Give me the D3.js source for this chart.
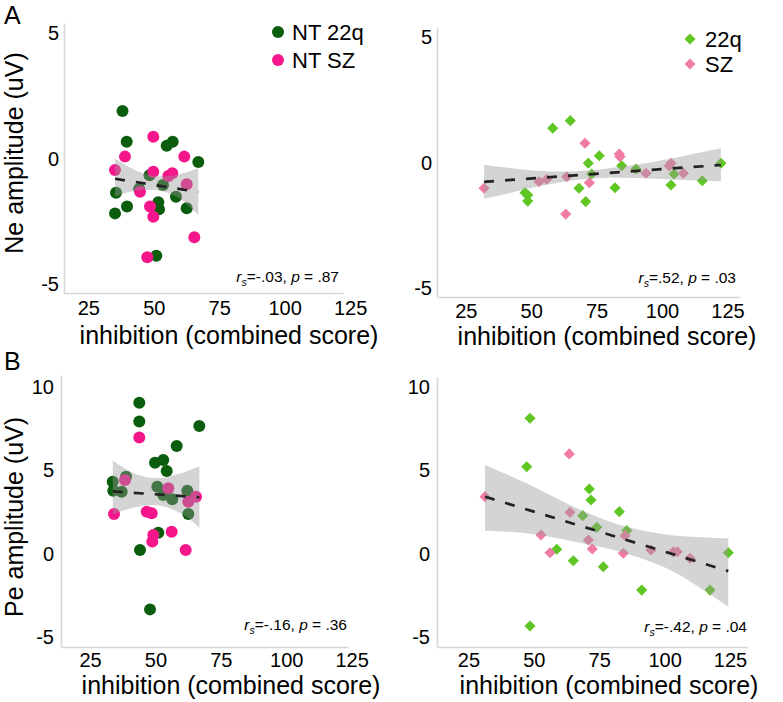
<!DOCTYPE html>
<html><head><meta charset="utf-8">
<script src="https://cdn.jsdelivr.net/npm/d3@7"></script>
<style>
body{margin:0;background:#fff}
svg{display:block}
text{font-family:"Liberation Sans",Arial,Helvetica,sans-serif;fill:#000}
</style>
</head><body>
<svg id="chart" width="783" height="702"></svg>
<script>
// ---------- tick labels ----------
const xTicks = [25, 50, 75, 100, 125];
const neTicks = [-5, 0, 5];
const peTicks = [-5, 0, 5, 10];

// ---------- legend labels ----------
const ntLegend = ["NT 22q", "NT SZ"];
const ptLegend = ["22q", "SZ"];

// ---------- titles ----------
const xTitle = "inhibition (combined score)";
const neTitle = "Ne amplitude (uV)";
const peTitle = "Pe amplitude (uV)";

// ---------- Ne, neurotypical (x = inhibition, y = amplitude) ----------
const neNT22q = [[38.05,1.90],[39.66,0.67],[54.94,0.51],[57.23,0.67],[67.01,-0.13],[35.57,-1.36],[35.19,-2.18],
  [39.77,-1.91],[51.73,-1.74],[52.0,-2.02],[53.52,-1.05],[58.49,-1.52],[62.58,-1.98],[50.97,-3.87],[48.37,-0.66],[44.4,-1.21]];
const neNTSZ = [[49.82,0.87],[39.0,0.08],[61.66,0.08],[35.19,-0.45],[49.82,-0.52],[55.55,-0.69],[57.08,-0.58],
  [44.74,-1.32],[62.58,-1.02],[48.56,-1.91],[49.82,-2.31],[65.49,-3.13],[47.53,-3.93]];
const neNTFit = [[35.2,-0.80],[67.0,-1.33]];
const neNTBand = [[35.2,-1.52,0.01],[40,-1.35,-0.30],[45,-1.25,-0.55],[50,-1.25,-0.68],[55,-1.35,-0.70],[60,-1.60,-0.62],[67.0,-2.24,-0.385]];
const neNTStat = ["-.03", ".87"];

// ---------- Ne, patients ----------
const ne22q = [[58.22,1.38],[64.95,1.68],[76.03,0.28],[71.82,-0.02],[73.12,-0.45],[68.27,-1.02],[70.83,-1.55],
  [47.63,-1.20],[48.66,-1.29],[48.66,-1.53],[82.03,-1.00],[84.59,-0.12],[90.05,-0.25],[104.58,-0.45],[103.43,-0.89],
  [115.39,-0.72],[122.54,-0.02]];
const neSZ = [[31.96,-1.02],[52.98,-0.76],[55.93,-0.66],[63.57,-0.56],[63.19,-2.05],[70.56,0.78],[72.21,-0.80],
  [83.67,0.35],[83.94,0.24],[93.87,-0.42],[103.43,-0.02],[102.78,-0.13],[108.13,-0.42]];
const nePTFit = [[32,-0.76],[122.5,-0.09]];
const nePTBand = [[32,-1.44,-0.08],[45,-1.13,-0.25],[55,-0.90,-0.33],[65,-0.72,-0.35],[75,-0.62,-0.28],[85,-0.60,-0.15],
  [95,-0.63,0.00],[105,-0.68,0.20],[115,-0.72,0.42],[122.5,-0.74,0.58]];
const nePTStat = [".52", ".03"];

// ---------- Pe, neurotypical ----------
const peNT22q = [[43.83,9.07],[43.83,7.93],[66.76,7.67],[58.12,6.47],[49.83,5.46],[52.99,5.63],[54.3,4.96],
  [33.66,4.32],[33.89,3.78],[37.1,3.72],[38.75,4.62],[50.71,4.02],[52.99,3.52],[56.44,3.26],[62.18,3.78],
  [62.56,2.38],[51.09,1.26],[44.1,0.22],[47.92,-3.35]];
const peNTSZ = [[43.83,6.97],[38.36,4.42],[34.16,2.38],[46.66,2.52],[48.57,2.42],[54.91,3.92],[62.56,3.12],
  [65.5,3.42],[49.18,1.12],[48.8,0.72],[56.21,1.32],[61.56,0.22]];
const peNTFit = [[33.7,3.74],[66.8,3.38]];
const peNTBand = [[33.7,2.35,5.6],[38,2.6,5.15],[43,2.8,4.75],[48,2.92,4.55],[53,2.85,4.55],[58,2.55,4.75],[62,2.2,4.95],[66.8,1.55,5.25]];
const peNTStat = ["-.16", ".36"];

// ---------- Pe, patients ----------
const pe22q = [[48.55,8.13],[47.29,5.22],[71.22,3.88],[71.87,3.22],[68.7,2.28],[82.69,2.52],[74.05,1.58],
  [85.52,1.38],[58.76,0.26],[65.1,-0.43],[76.57,-0.79],[91.25,-2.19],[117.36,-2.19],[124.35,0.05],[48.55,-4.35]];
const peSZ = [[31.35,3.42],[63.57,5.99],[63.84,2.48],[52.75,1.12],[56.2,0.05],[70.84,0.82],[72.37,0.28],
  [84.87,1.08],[84.22,0.02],[94.8,0.22],[103.33,0.11],[104.86,0.11],[109.71,-0.28]];
const pePTFit = [[31.35,3.42],[124.35,-1.05]];
const pePTBand = [[31.35,1.38,5.32],[47.3,1.22,4.22],[63.8,0.78,2.92],[83.0,0.11,1.72],[102.1,-0.99,1.12],[124.35,-3.19,0.92]];
const pePTStat = ["-.42", ".04"];

// ---------- styles ----------
const C = {nt22q:"#0b5d0e", ntsz:"#f5168c", p22q:"#5fc623", psz:"#f07ca4"};

const svg = d3.select("#chart");

const diamond = d3.symbol().type(d3.symbolSquare).size(62);

function panel(cfg) {
  const x = d3.scaleLinear().domain(cfg.xd).range(cfg.xr);
  const y = d3.scaleLinear().domain(cfg.yd).range(cfg.yr);
  const g = svg.append("g");

  // axes
  const ax = g.append("g").attr("transform", `translate(0,${cfg.yr[0]})`)
    .call(d3.axisBottom(x).tickValues(xTicks).tickFormat(d => String(d))
      .tickSize(0).tickSizeOuter(0).tickPadding(cfg.xpad));
  const ay = g.append("g").attr("transform", `translate(${cfg.xr[0]},0)`)
    .call(d3.axisLeft(y).tickValues(cfg.yTicks).tickFormat(d => String(d))
      .tickSize(0).tickSizeOuter(0).tickPadding(cfg.ypad));
  [ax, ay].forEach(a => {
    a.select(".domain").attr("stroke", "#d6d6d6").attr("stroke-width", 1.6);
    a.selectAll("text").attr("font-size", 20).attr("fill", "#000")
      .attr("font-family", '"Liberation Sans",Arial,sans-serif');
  });

  // points
  cfg.groups.forEach(gr => {
    if (gr.shape === "circle") {
      g.append("g").selectAll("circle").data(gr.data).join("circle")
        .attr("cx", d => x(d[0])).attr("cy", d => y(d[1])).attr("r", 6).attr("fill", gr.color);
    } else {
      g.append("g").selectAll("path").data(gr.data).join("path")
        .attr("d", diamond)
        .attr("transform", d => `translate(${x(d[0])},${y(d[1])}) rotate(45)`)
        .attr("fill", gr.color);
    }
  });

  // confidence band
  const area = d3.area().x(d => x(d[0])).y0(d => y(d[1])).y1(d => y(d[2])).curve(d3.curveCatmullRom);
  g.append("path").datum(cfg.band).attr("d", area).attr("fill", "#999").attr("fill-opacity", 0.42);

  // fit line
  const line = d3.line().x(d => x(d[0])).y(d => y(d[1]));
  g.append("path").datum(cfg.fit).attr("d", line).attr("fill", "none")
    .attr("stroke", "#222").attr("stroke-width", 2.7).attr("stroke-dasharray", "10,11");

  // stat annotation
  const t = g.append("text").attr("x", cfg.stat.x).attr("y", cfg.stat.y)
    .attr("text-anchor", "end").attr("font-size", 15.5).attr("fill", "#222");
  t.append("tspan").attr("font-style", "italic").text("r");
  t.append("tspan").attr("font-style", "italic").attr("font-size", 10.5).attr("dy", 4).text("s");
  t.append("tspan").attr("dy", -4).text("=" + cfg.stat.v[0] + ", ");
  t.append("tspan").attr("font-style", "italic").text("p");
  t.append("tspan").text(" = " + cfg.stat.v[1]);

  // x title
  g.append("text").attr("x", cfg.xt[0]).attr("y", cfg.xt[1]).attr("text-anchor", "middle")
    .attr("font-size", 25).text(xTitle);

  // legend
  if (cfg.legend) {
    const L = cfg.legend;
    L.labels.forEach((lab, i) => {
      const ly = L.y + i * L.dy;
      if (L.shape === "circle") {
        g.append("circle").attr("cx", L.x).attr("cy", ly).attr("r", 6).attr("fill", L.colors[i]);
      } else {
        g.append("path").attr("d", diamond).attr("transform", `translate(${L.x},${ly}) rotate(45)`).attr("fill", L.colors[i]);
      }
      g.append("text").attr("x", L.tx).attr("y", ly + 8).attr("font-size", 22).text(lab);
    });
  }
}

panel({
  xd:[15.7,122.3], xr:[64,343], yd:[-5.35,5.4], yr:[293,23], yTicks:neTicks, xpad:8, ypad:5,
  groups:[{data:neNT22q,color:C.nt22q,shape:"circle"},{data:neNTSZ,color:C.ntsz,shape:"circle"}],
  band:neNTBand, fit:neNTFit, stat:{x:339,y:282,v:neNTStat}, xt:[229,344],
  legend:{labels:ntLegend, colors:[C.nt22q,C.ntsz], shape:"circle", x:278, y:32, dy:28, tx:292}
});
panel({
  xd:[14,129.8], xr:[437,740], yd:[-5.36,5.38], yr:[297,28], yTicks:neTicks, xpad:7, ypad:5,
  groups:[{data:ne22q,color:C.p22q,shape:"diamond"},{data:neSZ,color:C.psz,shape:"diamond"}],
  band:nePTBand, fit:nePTFit, stat:{x:736,y:283,v:nePTStat}, xt:[607,345],
  legend:{labels:ptLegend, colors:[C.p22q,C.psz], shape:"diamond", x:690, y:39, dy:25, tx:705}
});
panel({
  xd:[13.9,123.6], xr:[61,348], yd:[-5.61,10.73], yr:[647,375], yTicks:peTicks, xpad:6, ypad:7,
  groups:[{data:peNT22q,color:C.nt22q,shape:"circle"},{data:peNTSZ,color:C.ntsz,shape:"circle"}],
  band:peNTBand, fit:peNTFit, stat:{x:347,y:630,v:peNTStat}, xt:[231,694]
});
panel({
  xd:[13.0,131.5], xr:[437,747], yd:[-5.61,10.61], yr:[647,377], yTicks:peTicks, xpad:6, ypad:7,
  groups:[{data:pe22q,color:C.p22q,shape:"diamond"},{data:peSZ,color:C.psz,shape:"diamond"}],
  band:pePTBand, fit:pePTFit, stat:{x:747,y:632,v:pePTStat}, xt:[609,694]
});

// y titles and panel letters
svg.append("text").attr("transform", "translate(23,153) rotate(-90)").attr("text-anchor", "middle")
  .attr("font-size", 25).text(neTitle);
svg.append("text").attr("transform", "translate(23,517) rotate(-90)").attr("text-anchor", "middle")
  .attr("font-size", 25).text(peTitle);
svg.append("text").attr("x", 4).attr("y", 24).attr("font-size", 25).text("A");
svg.append("text").attr("x", 4).attr("y", 370).attr("font-size", 25).text("B");
</script>
</body></html>
